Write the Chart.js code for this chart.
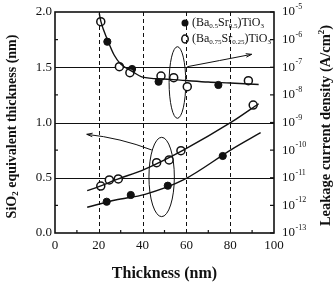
<!DOCTYPE html>
<html><head><meta charset="utf-8">
<script src="https://cdn.jsdelivr.net/npm/chart.js@4.4.1/dist/chart.umd.min.js"></script>
<style>html,body{margin:0;padding:0;background:#fff}</style>
</head><body>
<canvas id="c" width="336" height="285"></canvas>
<script>
// ---- data ----
const xTickValues = [0, 20, 40, 60, 80, 100];
const leftTickValues = [0.0, 0.5, 1.0, 1.5, 2.0];
const rightExponents = [-13, -12, -11, -10, -9, -8, -7, -6, -5];

// Leakage current density (A/cm^2), right axis
const leakThick_BST50 = [23.9, 35.2, 47.3, 74.6];
const leak_BST50 = [8.4e-7, 8.65e-8, 3.0e-8, 2.28e-8];
const leakThick_BST75 = [20.9, 29.4, 34.2, 48.4, 54.2, 60.4, 88.3];
const leak_BST75 = [4.46e-6, 1.05e-7, 6.35e-8, 4.8e-8, 4.19e-8, 1.98e-8, 3.26e-8];
const leakFitThick = [20.2, 21, 24, 27, 30, 35, 40, 50, 60, 70, 80, 93];
const leakFit = [9e-6, 4.4e-6, 9.7e-7, 2.77e-7, 1.31e-7, 7.3e-8, 4.4e-8, 3.76e-8, 3.3e-8, 2.92e-8, 2.69e-8, 2.38e-8];

// SiO2 equivalent thickness (nm), left axis
const eotThick_BST50 = [23.6, 34.6, 51.5, 76.6];
const eot_BST50 = [0.283, 0.344, 0.428, 0.697];
const eotThick_BST75 = [20.9, 24.8, 28.9, 46.4, 52.1, 57.5, 90.5];
const eot_BST75 = [0.425, 0.480, 0.489, 0.636, 0.661, 0.745, 1.158];
const eotFitThick_BST75 = [14.7, 20, 27.6, 41.1, 58.6, 80.7, 93];
const eotFit_BST75 = [0.383, 0.42, 0.48, 0.579, 0.751, 1.005, 1.17];
const eotFitThick_BST50 = [14.7, 27.6, 41.1, 58.6, 80.7, 93.9];
const eotFit_BST50 = [0.233, 0.299, 0.350, 0.48, 0.757, 0.908];

const pts = (xs, ys) => xs.map((x, i) => ({x: x, y: ys[i]}));
const SERIF = '"Liberation Serif", "DejaVu Serif", serif';

const decor = {
  id: 'decor',
  beforeDatasetsDraw(chart) {
    const {ctx, chartArea: a, scales} = chart;
    const x = scales.x, y = scales.y, y1 = scales.y1;
    ctx.save();
    ctx.strokeStyle = '#111';
    ctx.lineWidth = 1;
    [0.5, 1.0, 1.5].forEach(v => {
      const py = Math.round(y.getPixelForValue(v)) + 0.5;
      ctx.beginPath(); ctx.moveTo(a.left, py); ctx.lineTo(a.right, py); ctx.stroke();
    });
    ctx.setLineDash([4, 3]);
    [20, 40, 60, 80].forEach(v => {
      const px = Math.round(x.getPixelForValue(v)) + 0.5;
      ctx.beginPath(); ctx.moveTo(px, a.top); ctx.lineTo(px, a.bottom); ctx.stroke();
    });
    ctx.setLineDash([]);
    ctx.lineWidth = 1.2;
    [10, 30, 50, 70, 90].forEach(v => {
      const px = x.getPixelForValue(v);
      ctx.beginPath(); ctx.moveTo(px, a.bottom); ctx.lineTo(px, a.bottom - 3); ctx.stroke();
    });
    [0.25, 0.75, 1.25, 1.75].forEach(v => {
      const py = y.getPixelForValue(v);
      ctx.beginPath(); ctx.moveTo(a.left, py); ctx.lineTo(a.left + 3, py); ctx.stroke();
    });
    rightExponents.forEach(e => {
      const py = y1.getPixelForValue(Math.pow(10, e));
      ctx.beginPath(); ctx.moveTo(a.right, py); ctx.lineTo(a.right - 4, py); ctx.stroke();
    });
    ctx.lineWidth = 1.6;
    ctx.strokeRect(a.left, a.top, a.right - a.left, a.bottom - a.top);

    ctx.lineWidth = 1;
    const ell = (cx, cy, rxu, ryu) => {
      const px = x.getPixelForValue(cx), py = y.getPixelForValue(cy);
      const rx = x.getPixelForValue(cx + rxu) - px;
      const ry = py - y.getPixelForValue(cy + ryu);
      ctx.beginPath(); ctx.ellipse(px, py, rx, ry, 0, 0, Math.PI * 2); ctx.stroke();
    };
    ell(55.9, 1.362, 3.8, 0.324);
    ell(48.7, 0.507, 5.8, 0.359);
    const arrow = (x0, y0, xc, yc, x1, y1v) => {
      const p0 = [x.getPixelForValue(x0), y.getPixelForValue(y0)];
      const pc = [x.getPixelForValue(xc), y.getPixelForValue(yc)];
      const p1 = [x.getPixelForValue(x1), y.getPixelForValue(y1v)];
      ctx.beginPath(); ctx.moveTo(p0[0], p0[1]); ctx.quadraticCurveTo(pc[0], pc[1], p1[0], p1[1]); ctx.stroke();
      const ang = Math.atan2(p1[1] - pc[1], p1[0] - pc[0]);
      ctx.beginPath();
      ctx.moveTo(p1[0], p1[1]);
      ctx.lineTo(p1[0] - 6 * Math.cos(ang - 0.3), p1[1] - 6 * Math.sin(ang - 0.3));
      ctx.moveTo(p1[0], p1[1]);
      ctx.lineTo(p1[0] - 6 * Math.cos(ang + 0.3), p1[1] - 6 * Math.sin(ang + 0.3));
      ctx.stroke();
    };
    arrow(60.4, 1.505, 75, 1.56, 89.8, 1.617);
    arrow(44.2, 0.751, 30, 0.86, 14.5, 0.893);
    ctx.restore();
  },
  afterDraw(chart) {
    const {ctx, chartArea: a, scales} = chart;
    const y1 = scales.y1;
    ctx.save();
    ctx.fillStyle = '#111';
    ctx.textBaseline = 'middle';
    rightExponents.forEach(e => {
      const py = y1.getPixelForValue(Math.pow(10, e));
      ctx.font = '13px ' + SERIF;
      ctx.textAlign = 'left';
      ctx.fillText('10', a.right + 8, py);
      const w = ctx.measureText('10').width;
      ctx.font = '8px ' + SERIF;
      ctx.fillText(String(e), a.right + 8 + w + 0.5, py - 5);
    });
    const rich = (parts, size, bold, x0, y0) => {
      let xx = x0;
      parts.forEach(([t, k]) => {
        const s = k === 'n' ? size : Math.round(size * 0.62);
        ctx.font = (bold ? 'bold ' : '') + s + 'px ' + SERIF;
        const dy = k === 'sub' ? size * 0.28 : (k === 'sup' ? -size * 0.33 : 0);
        ctx.fillText(t, xx, y0 + dy);
        xx += ctx.measureText(t).width;
      });
      return xx - x0;
    };
    const richWidth = (parts, size, bold) => {
      let w = 0;
      parts.forEach(([t, k]) => {
        const s = k === 'n' ? size : Math.round(size * 0.62);
        ctx.font = (bold ? 'bold ' : '') + s + 'px ' + SERIF;
        w += ctx.measureText(t).width;
      });
      return w;
    };
    ctx.textAlign = 'left';
    const bt = [['Thickness (nm)', 'n']];
    const bw = richWidth(bt, 16, true);
    rich(bt, 16, true, (a.left + a.right) / 2 - bw / 2, 274);
    const lt = [['SiO', 'n'], ['2', 'sub'], [' equivalent thickness (nm)', 'n']];
    ctx.save();
    ctx.translate(12, (a.top + a.bottom) / 2 + 4);
    ctx.rotate(-Math.PI / 2);
    const lw = richWidth(lt, 14, true);
    rich(lt, 14, true, -lw / 2, 0);
    ctx.restore();
    const rt = [['Leakage current density (A/cm', 'n'], ['2', 'sup'], [')', 'n']];
    ctx.save();
    ctx.translate(326, (a.top + a.bottom) / 2 + 3);
    ctx.rotate(-Math.PI / 2);
    const rw = richWidth(rt, 14.5, true);
    rich(rt, 14.5, true, -rw / 2, 0);
    ctx.restore();
    const lx = 185, ly1 = 23, ly2 = 39;
    ctx.beginPath(); ctx.arc(lx, ly1, 3.5, 0, Math.PI * 2); ctx.fill();
    ctx.lineWidth = 1.5; ctx.strokeStyle = '#111';
    ctx.beginPath(); ctx.ellipse(lx, ly2, 3.2, 4, 0, 0, Math.PI * 2); ctx.stroke();
    rich([['(Ba', 'n'], ['0.5', 'sub'], ['Sr', 'n'], ['0.5', 'sub'], [')TiO', 'n'], ['3', 'sub']], 12, false, lx + 7, ly1);
    rich([['(Ba', 'n'], ['0.75', 'sub'], ['Sr', 'n'], ['0.25', 'sub'], [')TiO', 'n'], ['3', 'sub']], 12, false, lx + 7, ly2);
    ctx.restore();
  }
};

const lineDs = (data, axis) => ({
  data: data, yAxisID: axis, showLine: true, pointRadius: 0,
  borderColor: '#111', borderWidth: 1.4, cubicInterpolationMode: 'monotone', fill: false
});
const filledDs = (data, axis) => ({
  data: data, yAxisID: axis, showLine: false, pointRadius: 3.6,
  pointBackgroundColor: '#111', pointBorderColor: '#111', pointBorderWidth: 1
});
const openDs = (data, axis) => ({
  data: data, yAxisID: axis, showLine: false, pointRadius: 4,
  pointBackgroundColor: '#fff', pointBorderColor: '#111', pointBorderWidth: 1.5
});

new Chart(document.getElementById('c'), {
  type: 'scatter',
  data: {
    datasets: [
      lineDs(pts(leakFitThick, leakFit), 'y1'),
      lineDs(pts(eotFitThick_BST75, eotFit_BST75), 'y'),
      lineDs(pts(eotFitThick_BST50, eotFit_BST50), 'y'),
      openDs(pts(leakThick_BST75, leak_BST75), 'y1'),
      filledDs(pts(leakThick_BST50, leak_BST50), 'y1'),
      openDs(pts(eotThick_BST75, eot_BST75), 'y'),
      filledDs(pts(eotThick_BST50, eot_BST50), 'y')
    ]
  },
  options: {
    responsive: false, animation: false, devicePixelRatio: 1,
    layout: {padding: {top: 12, left: 0, right: 0, bottom: 0}},
    plugins: {legend: {display: false}, tooltip: {enabled: false}},
    scales: {
      x: {
        type: 'linear', position: 'bottom', min: 0, max: 100,
        afterBuildTicks: s => { s.ticks = xTickValues.map(v => ({value: v})); },
        ticks: {font: {family: SERIF, size: 13}, color: '#111', padding: 5, maxRotation: 0},
        grid: {display: false, drawTicks: false}, border: {display: false},
        afterFit: s => { s.height = 52; }
      },
      y: {
        type: 'linear', position: 'left', min: 0, max: 2,
        afterBuildTicks: s => { s.ticks = leftTickValues.map(v => ({value: v})); },
        ticks: {font: {family: SERIF, size: 13}, color: '#111', padding: 3, callback: v => v.toFixed(1)},
        grid: {display: false, drawTicks: false}, border: {display: false},
        afterFit: s => { s.width = 55; }
      },
      y1: {
        type: 'logarithmic', position: 'right', min: 1e-13, max: 1e-5,
        ticks: {display: false},
        grid: {display: false, drawTicks: false}, border: {display: false},
        afterFit: s => { s.width = 62; }
      }
    }
  },
  plugins: [decor]
});
</script>
</body></html>
